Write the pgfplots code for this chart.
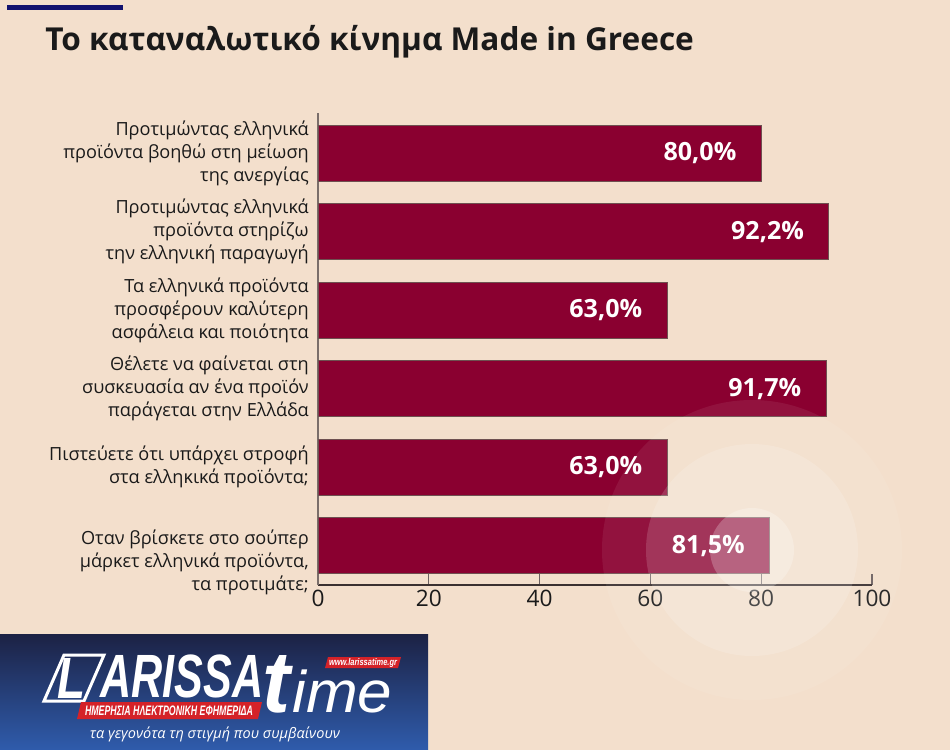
\documentclass[border=0pt]{standalone}
\usepackage{fontspec}
\setmainfont{Open Sans}
\newfontfamily\logofont{Liberation Sans}
\usepackage{graphicx}
\usepackage{pgfplots}
\pgfplotsset{compat=1.18}
\definecolor{bgc}{HTML}{F3DFCC}
\definecolor{barc}{HTML}{8A0030}
\definecolor{barline}{HTML}{6E5050}
\definecolor{navy}{HTML}{12126E}
\definecolor{txt}{HTML}{1A1A1A}
\definecolor{axc}{HTML}{3A3030}
\definecolor{axl}{HTML}{7A6E6A}
\definecolor{tickc}{HTML}{6B5F5F}
\definecolor{logotop}{HTML}{1C2244}
\definecolor{logomid}{HTML}{273A7C}
\definecolor{logobot}{HTML}{2F5CAC}
\definecolor{logored}{HTML}{D42228}
\def\px{0.75pt}
\begin{document}
\begin{tikzpicture}
\fill[bgc] (0,0) rectangle ({950*\px},{-750*\px});
\path[use as bounding box] (0,0) rectangle ({950*\px},{-750*\px});
\fill[navy] ({7*\px},{-5*\px}) rectangle ({123*\px},{-10*\px});
\node[anchor=base west, inner sep=0pt, text=txt, font=\fontsize{23.7}{28}\selectfont\bfseries] at ({45*\px},{-50*\px}) {Το καταναλωτικό κίνημα Made in Greece};
\begin{axis}[
  at={({318*\px},{-585*\px})}, anchor=south west,
  scale only axis, width={554*\px}, height={472*\px},
  xbar, bar width={56*\px},
  xmin=0, xmax=100, ymin=-0.5, ymax=5.51,
  axis x line*=bottom, axis y line*=left,
  x axis line style={draw=axc, line width=0.9pt},
  y axis line style={draw=axl, line width=0.9pt},
  xtick={0,20,40,60,80,100},
  ytick={-0.216,1,2,3,4,5},
  yticklabels={
    {Οταν βρίσκετε στο σούπερ\\μάρκετ ελληνικά προϊόντα,\\τα προτιμάτε;},
    {Πιστεύετε ότι υπάρχει στροφή\\στα ελληκικά προϊόντα;},
    {Θέλετε να φαίνεται στη\\συσκευασία αν ένα προϊόν\\παράγεται στην Ελλάδα},
    {Τα ελληνικά προϊόντα\\προσφέρουν καλύτερη\\ασφάλεια και ποιότητα},
    {Προτιμώντας ελληνικά\\προϊόντα στηρίζω\\την ελληνική παραγωγή},
    {Προτιμώντας ελληνικά\\προϊόντα βοηθώ στη μείωση\\της ανεργίας}},
  tick align=inside, major tick length={11*\px},
  xtick style={draw=tickc, line width=0.8pt},
  ytick style={draw=none},
  xticklabel style={font=\fontsize{17}{20}\selectfont, text=txt},
  yticklabel style={font=\fontsize{13.6}{17.25}\selectfont, text=txt, align=right, inner sep=0pt, xshift={-9*\px}},
  /pgf/number format/assume math mode=true,
  point meta=explicit symbolic,
  nodes near coords,
  nodes near coords style={anchor=east, xshift={-20*\px}, text=white, font=\fontsize{18.8}{22}\selectfont\bfseries},
  clip=false,
]
\addplot[fill=barc, draw=barline, line width=0.6pt] coordinates {
(81.5,0) [81,5\%]
(63.0,1) [63,0\%]
(91.7,2) [91,7\%]
(63.0,3) [63,0\%]
(92.2,4) [92,2\%]
(80.0,5) [80,0\%]
};
\end{axis}
% glow circles
\fill[white, opacity=0.07] ({752*\px},{-550*\px}) circle ({150*\px});
\fill[white, opacity=0.15] ({752*\px},{-550*\px}) circle ({106*\px});
\fill[white, opacity=0.23] ({752*\px},{-550*\px}) circle ({42*\px});
% logo
\shade[top color=logotop, middle color=logomid, bottom color=logobot] (0,{-634*\px}) rectangle ({428*\px},{-750*\px});
\draw[white, line width={3*\px}] ({44*\px},{-701*\px}) -- ({64*\px},{-655*\px}) -- ({104*\px},{-655*\px}) -- ({84*\px},{-701*\px}) -- cycle;
\node[inner sep=0pt, text=white] at ({72*\px},{-678*\px}) {\resizebox{21pt}{30pt}{\logofont\bfseries\itshape L}};
\node[anchor=south west, inner sep=0pt, text=white] at ({100*\px},{-698*\px}) {\resizebox{122.25pt}{32pt}{\logofont\bfseries\itshape ARISSA}};
\node[anchor=base west, inner sep=0pt, text=white] at ({262*\px},{-712*\px}) {\resizebox{21pt}{42.75pt}{\logofont\bfseries\itshape t}};
\node[anchor=base west, inner sep=0pt, text=white] at ({292*\px},{-712*\px}) {\resizebox{75pt}{32pt}{\logofont\itshape ime}};
\fill[logored] ({77*\px},{-719*\px}) -- ({81*\px},{-702*\px}) -- ({262*\px},{-702*\px}) -- ({258*\px},{-719*\px}) -- cycle;
\node[inner sep=0pt, text=white] at ({169*\px},{-710.5*\px}) {\resizebox{126pt}{7.2pt}{\logofont\bfseries\itshape ΗΜΕΡΗΣΙΑ ΗΛΕΚΤΡΟΝΙΚΗ ΕΦΗΜΕΡΙΔΑ}};
\fill[logored] ({325*\px},{-668*\px}) -- ({328*\px},{-657*\px}) -- ({401*\px},{-657*\px}) -- ({398*\px},{-668*\px}) -- cycle;
\node[inner sep=0pt, text=white] at ({363*\px},{-662.5*\px}) {\resizebox{51pt}{5.25pt}{\logofont\bfseries\itshape www.larissatime.gr}};
\node[inner sep=0pt, text=white] at ({215*\px},{-734*\px}) {\resizebox{187.5pt}{!}{\itshape τα γεγονότα τη στιγμή που συμβαίνουν}};
\end{tikzpicture}
\end{document}
